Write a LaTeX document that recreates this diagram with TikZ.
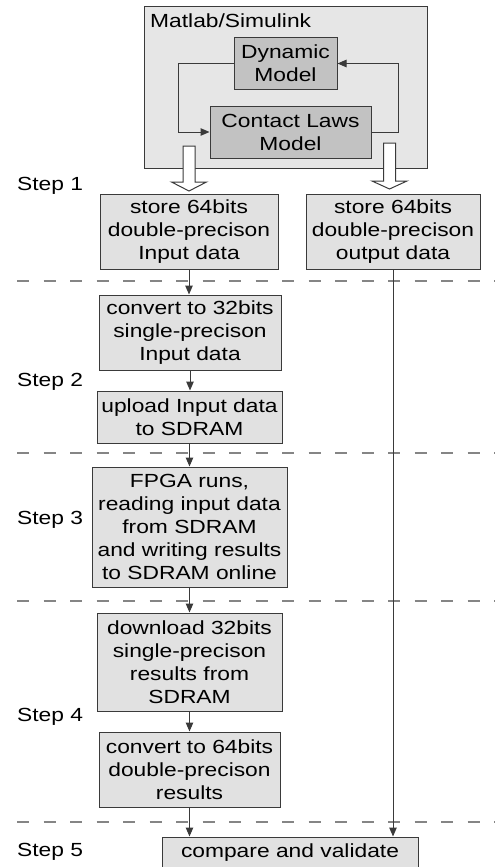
\documentclass[tikz,border=0pt]{standalone}
\usepackage{fontspec}
\setmainfont{Liberation Sans}[FakeStretch=1.2]
\usetikzlibrary{arrows.meta}
\definecolor{boxline}{HTML}{3A3A3A}
\definecolor{boxfill}{HTML}{E1E1E1}
\definecolor{outerfill}{HTML}{E6E6E6}
\definecolor{modelfill}{HTML}{C2C2C2}
\definecolor{dashcol}{HTML}{858585}
\newcommand\fsz{\fontsize{19}{23}\selectfont}
\begin{document}
\begin{tikzpicture}[x=1pt,y=-1pt,
  box/.style={draw=boxline, fill=boxfill, line width=1pt, align=center, inner sep=0pt, font=\fsz},
  model/.style={box, fill=modelfill},
  arr/.style={draw=boxline, line width=1pt, -{Triangle[length=9pt,width=7.5pt]}},
  sep/.style={draw=dashcol, line width=1.1pt, dash pattern=on 12pt off 14.5pt},
  steplbl/.style={anchor=west, inner sep=0pt, font=\fsz},
  hollow/.style={draw=boxline, fill=white, line width=1pt, line join=miter}]
\useasboundingbox (0,0) rectangle (495,867);

% Matlab/Simulink container
\node[box, fill=outerfill, minimum width=283pt, minimum height=161pt] (matlab) at (285.5,87.5) {};
\node[anchor=west, inner sep=0pt, font=\fsz] (mlabel) at (150,21) {Matlab/Simulink};
\node[model, minimum width=103pt, minimum height=51pt] (dyn) at (285.5,63.5) {Dynamic\\Model};
\node[model, minimum width=161pt, minimum height=52pt] (contact) at (290.5,132) {Contact Laws\\Model};
\draw[arr] (dyn.west) -- ++(-55,0) |- (contact.west);
\draw[arr] (contact.east) -- ++(27,0) |- (dyn.east);

% hollow arrows
\draw[hollow] (183,146) -- (195,146) -- (195,182) -- (206.5,182) -- (189,191) -- (171.5,182) -- (183,182) -- cycle;
\draw[hollow] (383.5,143) -- (395.5,143) -- (395.5,181) -- (407,181) -- (389.5,189) -- (372,181) -- (383.5,181) -- cycle;

% boxes
\node[box, minimum width=178pt, minimum height=75pt] (in1) at (189,231.5) {store 64bits\\double-precison\\Input data};
\node[box, minimum width=174pt, minimum height=75pt] (out1) at (393,231.5) {store 64bits\\double-precison\\output data};
\node[box, minimum width=182pt, minimum height=75pt] (conv32) at (190,332.5) {convert to 32bits\\single-precison\\Input data};
\node[box, minimum width=185pt, minimum height=52pt] (upload) at (189.5,417) {upload Input data\\to SDRAM};
\node[box, minimum width=195pt, minimum height=120pt] (fpga) at (189.5,527) {FPGA runs,\\reading input data\\from SDRAM\\and writing results\\to SDRAM online};
\node[box, minimum width=185pt, minimum height=98pt] (download) at (189.5,662) {download 32bits\\single-precison\\results from\\SDRAM};
\node[box, minimum width=181pt, minimum height=75pt] (conv64) at (189.5,769.5) {convert to 64bits\\double-precison\\results};
\node[box, minimum width=256pt, minimum height=32pt] (compare) at (290,853) {compare and validate};

% step separators
\coordinate (d1a) at (17,281);  \coordinate (d1b) at (495,281);
\coordinate (d2a) at (17,453);  \coordinate (d2b) at (495,453);
\coordinate (d3a) at (17,601);  \coordinate (d3b) at (495,601);
\coordinate (d4a) at (17,822);  \coordinate (d4b) at (495,822);
\draw[sep] (d1a) -- (d1b);
\draw[sep] (d2a) -- (d2b);
\draw[sep] (d3a) -- (d3b);
\draw[sep] (d4a) -- (d4b);

% step labels
\node[steplbl] (s1) at (17,186) {Step 1};
\node[steplbl] (s2) at (17,382) {Step 2};
\node[steplbl] (s3) at (17,520) {Step 3};
\node[steplbl] (s4) at (17,717) {Step 4};
\node[steplbl] (s5) at (17,852) {Step 5};

% connectors
\draw[arr] (in1.south) -- (in1.south |- conv32.north);
\draw[arr] (conv32.south) -- (conv32.south |- upload.north);
\draw[arr] (upload.south) -- (upload.south |- fpga.north);
\draw[arr] (fpga.south) -- (fpga.south |- download.north);
\draw[arr] (download.south) -- (download.south |- conv64.north);
\draw[arr] (conv64.south) -- (conv64.south |- compare.north);
\draw[arr] (out1.south) -- (out1.south |- compare.north);
\end{tikzpicture}
\end{document}
